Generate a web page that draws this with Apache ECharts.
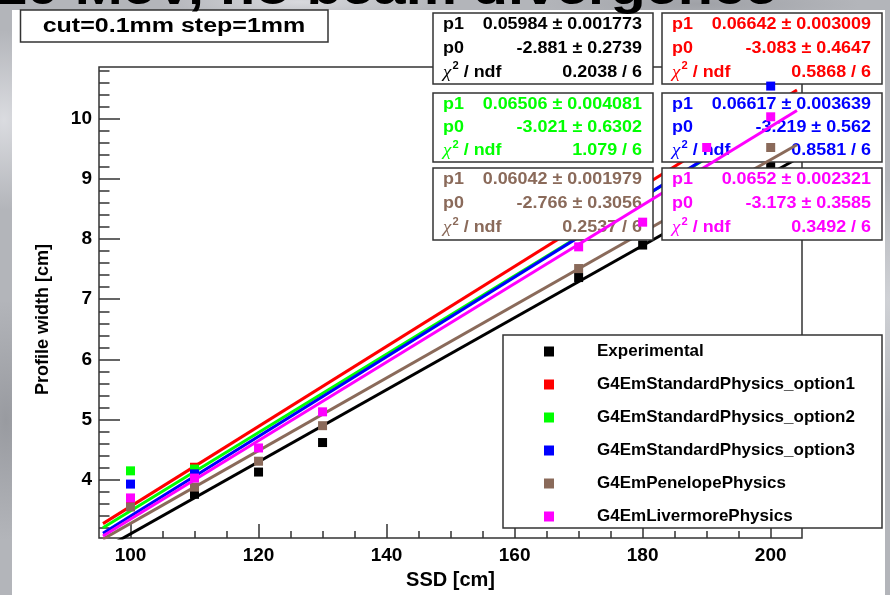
<!DOCTYPE html>
<html><head><meta charset="utf-8">
<script src="https://cdn.jsdelivr.net/npm/echarts@6/dist/echarts.min.js"></script>
<style>
html,body{margin:0;padding:0;width:890px;height:595px;overflow:hidden;}
#bg{position:absolute;left:0;top:0;width:890px;height:595px;
background:
 radial-gradient(ellipse 60px 90px at 4px 120px, rgba(235,236,240,0.7), rgba(235,236,240,0) 100%),
 radial-gradient(ellipse 50px 120px at 6px 420px, rgba(120,122,128,0.45), rgba(120,122,128,0) 100%),
 radial-gradient(ellipse 140px 20px at 300px 2px, rgba(225,226,230,0.8), rgba(225,226,230,0) 100%),
 radial-gradient(ellipse 160px 20px at 700px 4px, rgba(140,142,148,0.5), rgba(140,142,148,0) 100%),
 radial-gradient(ellipse 40px 120px at 888px 300px, rgba(220,222,226,0.7), rgba(220,222,226,0) 100%),
 #b3b5ba;}
#pad{position:absolute;left:12px;top:10px;width:873px;height:585px;background:#ffffff;}
#chart{position:absolute;left:0;top:0;width:890px;height:595px;}
</style></head><body>
<div id="bg"></div><div id="pad"></div><div id="chart"></div>
<script>
// ---------------- data ----------------
// (null = no visible point at that SSD)
const ssd = [100, 110, 120, 130, 170, 180, 190, 200];
const seriesNames = ['Experimental', 'G4EmStandardPhysics_option1', 'G4EmStandardPhysics_option2',
  'G4EmStandardPhysics_option3', 'G4EmPenelopePhysics', 'G4EmLivermorePhysics'];
const experimental = [2.95, 3.76, 4.13, 4.62, 7.36, 7.90, 8.50, 9.25];
const option1      = [3.62, 4.21, null, null, 8.25, 8.87, 9.52, 10.25];
const option2      = [4.15, 4.18, null, null, 8.15, 8.69, 9.45, 9.95];
const option3      = [3.93, 4.10, null, null, 8.12, 8.65, 9.40, 10.54];
const penelope     = [3.55, 3.88, 4.31, 4.90, 7.51, 8.12, 8.72, 9.52];
const livermore    = [3.70, 4.03, 4.53, 5.13, 7.87, 8.28, 9.52, 10.03];
// fit results (linear fit p0 + p1*x) shown in the stat boxes
const fitP1    = [0.05984, 0.06642, 0.06506, 0.06617, 0.06042, 0.0652];
const fitP1Err = ['0.001773', '0.003009', '0.004081', '0.003639', '0.001979', '0.002321'];
const fitP0    = [-2.881, -3.083, -3.021, -3.219, -2.766, -3.173];
const fitP0Err = ['0.2739', '0.4647', '0.6302', '0.562', '0.3056', '0.3585'];
const fitChi2  = ['0.2038', '0.5868', '1.079', '0.8581', '0.2537', '0.3492'];
const fitNdf   = [6, 6, 6, 6, 6, 6];
const fitRange = [95.7, 204.1];
const xTicks = [100, 120, 140, 160, 180, 200];
const yTicks = [4, 5, 6, 7, 8, 9, 10];
const titleText = '10 MeV, no beam divergence';
const subTitleText = 'cut=0.1mm step=1mm';
const xTitle = 'SSD [cm]';
const yTitle = 'Profile width [cm]';

// ---------------- styling ----------------
const groups = [experimental, option1, option2, option3, penelope, livermore];
const colors = ['#000000', '#ff0000', '#00ff00', '#0000ff', '#8a6a5a', '#ff00ff'];
const FONT = '"Liberation Sans", Arial, Helvetica, sans-serif';
const xMin = 95.08, xMax = 204.89, yMin = 3.033, yMax = 10.857;
const axisColor = '#333333';

const xMinor = []; for (let v = 100; v <= 200; v += 5) xMinor.push(v);
const yMinor = []; for (let k = 16; k <= 54; k++) yMinor.push(+(k * 0.2).toFixed(1));

const chart = echarts.init(document.getElementById('chart'), null, {renderer: 'canvas'});

const series = [];
groups.forEach((vals, i) => {
  const pts = [];
  ssd.forEach((x, k) => { if (vals[k] !== null) pts.push([x, vals[k]]); });
  series.push({
    type: 'scatter', name: seriesNames[i], xAxisIndex: 0, yAxisIndex: 0,
    data: pts,
    symbol: 'rect', symbolSize: 9, itemStyle: {color: colors[i], opacity: 1},
    z: 10 + 2 * i, animation: false, silent: true
  });
  series.push({
    type: 'line', name: 'fit_' + i, xAxisIndex: 0, yAxisIndex: 0,
    data: fitRange.map(x => [x, fitP0[i] + fitP1[i] * x]),
    showSymbol: false, symbol: 'none', lineStyle: {color: colors[i], width: 3, opacity: 1},
    itemStyle: {color: colors[i]},
    z: 10 + 2 * i, animation: false, silent: true
  });
});

// stat boxes
const graphics = [];
const colLeft = [433, 662], rowTop = [13, 93, 168], rowH = [71, 69, 72], boxW = 220;
const SX = 1.12;
groups.forEach((_, i) => {
  const r = Math.floor(i / 2), c = i % 2;
  const L = colLeft[c], T = rowTop[r], H = rowH[r];
  const z = 11 + 2 * i;
  const col = colors[i];
  graphics.push({type: 'rect', shape: {x: L, y: T, width: boxW, height: H},
    style: {fill: '#ffffff', stroke: '#333333', lineWidth: 1.5}, z: z, silent: true});
  const ys = [T + H / 6, T + H / 2, T + 5 * H / 6];
  const lab = ['p1', 'p0'];
  const vals = [fitP1[i] + ' \u00b1 ' + fitP1Err[i], fitP0[i] + ' \u00b1 ' + fitP0Err[i], fitChi2[i] + ' / ' + fitNdf[i]];
  for (let k = 0; k < 2; k++) {
    graphics.push({type: 'text', x: L + 10, y: ys[k], scaleX: SX, z: z, silent: true,
      style: {text: lab[k], fill: col, font: 'bold 16px ' + FONT, align: 'left', verticalAlign: 'middle'}});
  }
  graphics.push({type: 'text', x: L + 10, y: ys[2], scaleX: SX, z: z, silent: true,
    style: {text: '{c|\u03c7}{s|2}{n| / ndf}', align: 'left', verticalAlign: 'middle',
      rich: {
        c: {fill: col, fontSize: 17, fontStyle: 'italic', fontFamily: '"Liberation Serif", "DejaVu Serif", serif'},
        s: {fill: col, fontSize: 10, fontWeight: 'bold', fontFamily: FONT, padding: [0, 0, 11, 1]},
        n: {fill: col, fontSize: 16, fontWeight: 'bold', fontFamily: FONT}
      }}});
  for (let k = 0; k < 3; k++) {
    graphics.push({type: 'text', x: L + 209, y: ys[k], scaleX: SX, z: z, silent: true,
      style: {text: vals[k], fill: col, font: 'bold 16px ' + FONT, align: 'right', verticalAlign: 'middle'}});
  }
});
// legend frame
graphics.push({type: 'rect', shape: {x: 503, y: 335, width: 379, height: 193},
  style: {fill: '#ffffff', stroke: '#333333', lineWidth: 1.5}, z: 35, silent: true});
// sub title box
graphics.push({type: 'rect', shape: {x: 20.5, y: 10, width: 307.5, height: 32},
  style: {fill: '#ffffff', stroke: '#333333', lineWidth: 1.5}, z: 40, silent: true});
graphics.push({type: 'text', x: 174, y: 26, scaleX: 1.25, z: 41, silent: true,
  style: {text: subTitleText, fill: '#000', font: 'bold 20px ' + FONT, align: 'center', verticalAlign: 'middle'}});
// big title, mostly above the canvas
graphics.push({type: 'text', x: 777, y: -9, scaleX: 1.2, z: 100, silent: true,
  style: {text: titleText, fill: '#000', font: 'bold 48px ' + FONT, align: 'right', verticalAlign: 'middle'}});

const labelStyle = {fontSize: 19, fontWeight: 'bold', fontFamily: FONT, color: '#000'};
const option = {
  animation: false,
  backgroundColor: 'transparent',
  grid: {left: 99, top: 67, width: 703, height: 477, show: true, borderColor: axisColor, borderWidth: 1.5, backgroundColor: 'transparent'},
  xAxis: [
    {type: 'value', min: xMin, max: xMax, position: 'bottom',
      axisLine: {show: false}, splitLine: {show: false},
      axisTick: {show: true, inside: true, length: 14, customValues: xTicks, lineStyle: {color: axisColor, width: 1.5}},
      axisLabel: Object.assign({show: true, margin: 8, customValues: xTicks}, labelStyle),
      name: xTitle, nameLocation: 'middle', nameGap: 25,
      nameTextStyle: {fontSize: 20, fontWeight: 'bold', fontFamily: FONT, color: '#000'}},
    {type: 'value', min: xMin, max: xMax, position: 'bottom',
      axisLine: {show: false}, splitLine: {show: false}, axisLabel: {show: false},
      axisTick: {show: true, inside: true, length: 7, customValues: xMinor, lineStyle: {color: axisColor, width: 1.5}}}
  ],
  yAxis: [
    {type: 'value', min: yMin, max: yMax, position: 'left',
      axisLine: {show: false}, splitLine: {show: false},
      axisTick: {show: true, inside: true, length: 21, customValues: yTicks, lineStyle: {color: axisColor, width: 1.5}},
      axisLabel: Object.assign({show: true, margin: 7, customValues: yTicks}, labelStyle),
      name: yTitle, nameLocation: 'middle', nameGap: 47,
      nameTextStyle: {fontSize: 18, fontWeight: 'bold', fontFamily: FONT, color: '#000', padding: [0, 34, 0, 0]}},
    {type: 'value', min: yMin, max: yMax, position: 'left',
      axisLine: {show: false}, splitLine: {show: false}, axisLabel: {show: false},
      axisTick: {show: true, inside: true, length: 10.5, customValues: yMinor, lineStyle: {color: axisColor, width: 1.5}}}
  ],
  legend: {
    show: true, left: 544, top: 343, orient: 'vertical', padding: 0,
    itemWidth: 10, itemHeight: 10, itemGap: 16, icon: 'rect', selectedMode: false, z: 40,
    itemStyle: {opacity: 1},
    textStyle: {fontSize: 17, fontWeight: 'bold', fontFamily: FONT, color: '#000', padding: [0, 0, 0, 38], lineHeight: 16},
    data: seriesNames
  },
  graphic: graphics,
  series: series
};
chart.setOption(option);
</script>
</body></html>
